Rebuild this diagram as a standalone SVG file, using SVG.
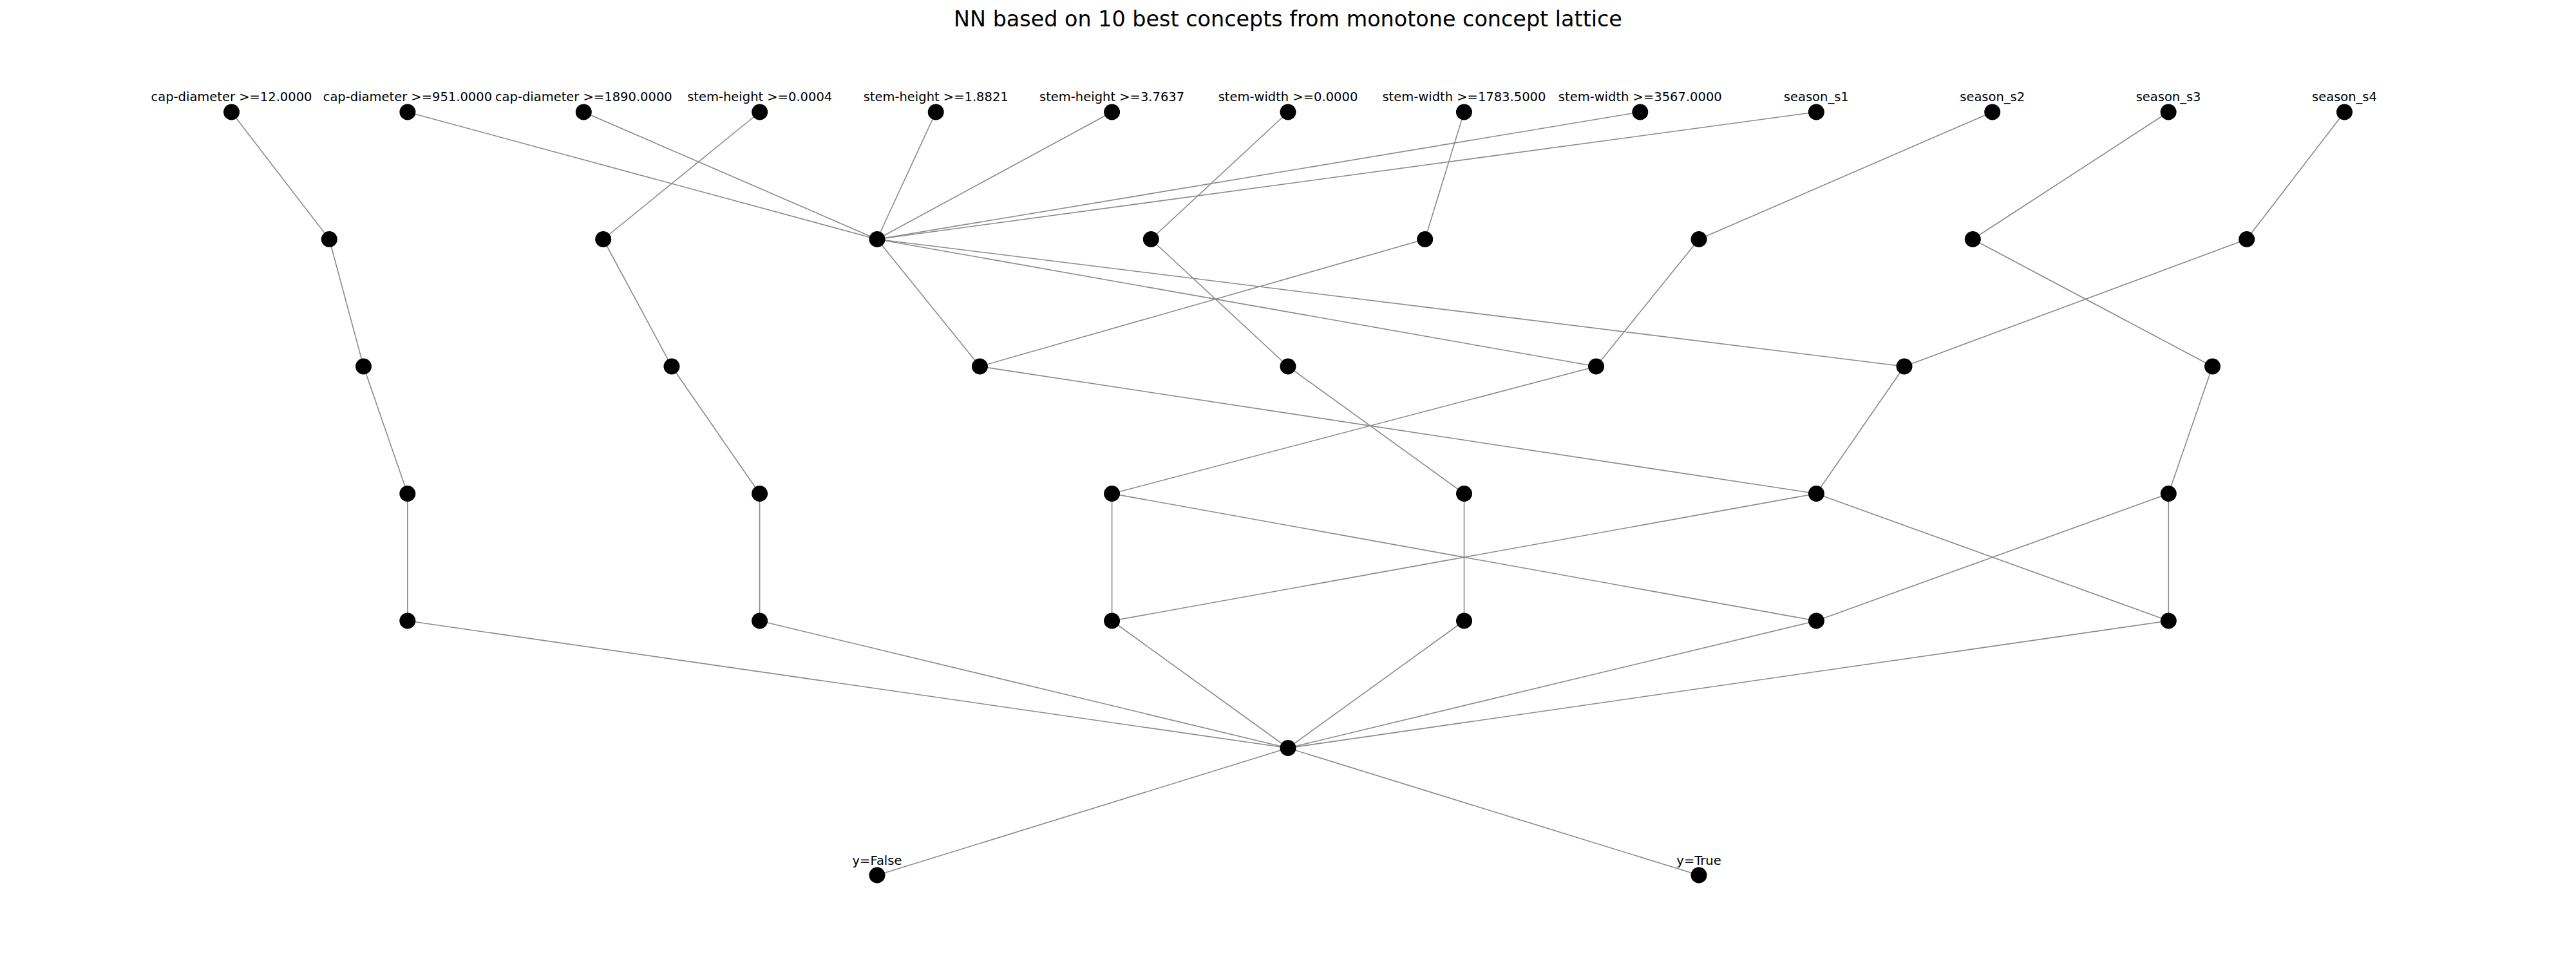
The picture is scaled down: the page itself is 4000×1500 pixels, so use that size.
<svg xmlns="http://www.w3.org/2000/svg" width="4000" height="1500" viewBox="0 0 4000 1500">
<style>
.e{stroke:#8a8a8a;stroke-width:1.6;fill:none}
.n{fill:#000}
.l{font-family:"DejaVu Sans",sans-serif;font-size:19.5px;fill:#000;text-anchor:middle}
.t{font-family:"DejaVu Sans",sans-serif;font-size:33.4px;fill:#000;text-anchor:middle}
</style>
<rect width="4000" height="1500" fill="#fff"/>
<text class="t" x="2000" y="41">NN based on 10 best concepts from monotone concept lattice</text>
<g id="edges">
<line class="e" x1="359.5" y1="174" x2="511.3" y2="371.5"/>
<line class="e" x1="632.9" y1="174" x2="1362" y2="371.5"/>
<line class="e" x1="906.3" y1="174" x2="1362" y2="371.5"/>
<line class="e" x1="1179.7" y1="174" x2="936.7" y2="371.5"/>
<line class="e" x1="1453.2" y1="174" x2="1362" y2="371.5"/>
<line class="e" x1="1726.6" y1="174" x2="1362" y2="371.5"/>
<line class="e" x1="2000" y1="174" x2="1787.3" y2="371.5"/>
<line class="e" x1="2273.4" y1="174" x2="2212.7" y2="371.5"/>
<line class="e" x1="2546.8" y1="174" x2="1362" y2="371.5"/>
<line class="e" x1="2820.3" y1="174" x2="1362" y2="371.5"/>
<line class="e" x1="3093.7" y1="174" x2="2638" y2="371.5"/>
<line class="e" x1="3367.1" y1="174" x2="3063.3" y2="371.5"/>
<line class="e" x1="3640.5" y1="174" x2="3488.7" y2="371.5"/>
<line class="e" x1="511.3" y1="371.5" x2="564.5" y2="569"/>
<line class="e" x1="936.7" y1="371.5" x2="1043" y2="569"/>
<line class="e" x1="1362" y1="371.5" x2="1521.5" y2="569"/>
<line class="e" x1="1362" y1="371.5" x2="2478.5" y2="569"/>
<line class="e" x1="1362" y1="371.5" x2="2957" y2="569"/>
<line class="e" x1="1787.3" y1="371.5" x2="2000" y2="569"/>
<line class="e" x1="2212.7" y1="371.5" x2="1521.5" y2="569"/>
<line class="e" x1="2638" y1="371.5" x2="2478.5" y2="569"/>
<line class="e" x1="3063.3" y1="371.5" x2="3435.5" y2="569"/>
<line class="e" x1="3488.7" y1="371.5" x2="2957" y2="569"/>
<line class="e" x1="564.5" y1="569" x2="632.8" y2="766.5"/>
<line class="e" x1="1043" y1="569" x2="1179.6" y2="766.5"/>
<line class="e" x1="1521.5" y1="569" x2="2820.4" y2="766.5"/>
<line class="e" x1="2000" y1="569" x2="2273.5" y2="766.5"/>
<line class="e" x1="2478.5" y1="569" x2="1726.6" y2="766.5"/>
<line class="e" x1="2957" y1="569" x2="2820.4" y2="766.5"/>
<line class="e" x1="3435.5" y1="569" x2="3367.3" y2="766.5"/>
<line class="e" x1="632.8" y1="766.5" x2="632.8" y2="964"/>
<line class="e" x1="1179.6" y1="766.5" x2="1179.6" y2="964"/>
<line class="e" x1="1726.6" y1="766.5" x2="1726.6" y2="964"/>
<line class="e" x1="1726.6" y1="766.5" x2="2820.4" y2="964"/>
<line class="e" x1="2273.5" y1="766.5" x2="2273.5" y2="964"/>
<line class="e" x1="2820.4" y1="766.5" x2="1726.6" y2="964"/>
<line class="e" x1="2820.4" y1="766.5" x2="3367.3" y2="964"/>
<line class="e" x1="3367.3" y1="766.5" x2="2820.4" y2="964"/>
<line class="e" x1="3367.3" y1="766.5" x2="3367.3" y2="964"/>
<line class="e" x1="632.8" y1="964" x2="2000" y2="1161.5"/>
<line class="e" x1="1179.6" y1="964" x2="2000" y2="1161.5"/>
<line class="e" x1="1726.6" y1="964" x2="2000" y2="1161.5"/>
<line class="e" x1="2273.5" y1="964" x2="2000" y2="1161.5"/>
<line class="e" x1="2820.4" y1="964" x2="2000" y2="1161.5"/>
<line class="e" x1="3367.3" y1="964" x2="2000" y2="1161.5"/>
<line class="e" x1="2000" y1="1161.5" x2="1362" y2="1359"/>
<line class="e" x1="2000" y1="1161.5" x2="2638" y2="1359"/>
</g>
<g id="n0_0"><circle class="n" cx="359.5" cy="174" r="12.5"/><text class="l" x="359.5" y="157">cap-diameter &gt;=12.0000</text></g>
<g id="n0_1"><circle class="n" cx="632.9" cy="174" r="12.5"/><text class="l" x="632.9" y="157">cap-diameter &gt;=951.0000</text></g>
<g id="n0_2"><circle class="n" cx="906.3" cy="174" r="12.5"/><text class="l" x="906.3" y="157">cap-diameter &gt;=1890.0000</text></g>
<g id="n0_3"><circle class="n" cx="1179.7" cy="174" r="12.5"/><text class="l" x="1179.7" y="157">stem-height &gt;=0.0004</text></g>
<g id="n0_4"><circle class="n" cx="1453.2" cy="174" r="12.5"/><text class="l" x="1453.2" y="157">stem-height &gt;=1.8821</text></g>
<g id="n0_5"><circle class="n" cx="1726.6" cy="174" r="12.5"/><text class="l" x="1726.6" y="157">stem-height &gt;=3.7637</text></g>
<g id="n0_6"><circle class="n" cx="2000" cy="174" r="12.5"/><text class="l" x="2000" y="157">stem-width &gt;=0.0000</text></g>
<g id="n0_7"><circle class="n" cx="2273.4" cy="174" r="12.5"/><text class="l" x="2273.4" y="157">stem-width &gt;=1783.5000</text></g>
<g id="n0_8"><circle class="n" cx="2546.8" cy="174" r="12.5"/><text class="l" x="2546.8" y="157">stem-width &gt;=3567.0000</text></g>
<g id="n0_9"><circle class="n" cx="2820.3" cy="174" r="12.5"/><text class="l" x="2820.3" y="157">season_s1</text></g>
<g id="n0_10"><circle class="n" cx="3093.7" cy="174" r="12.5"/><text class="l" x="3093.7" y="157">season_s2</text></g>
<g id="n0_11"><circle class="n" cx="3367.1" cy="174" r="12.5"/><text class="l" x="3367.1" y="157">season_s3</text></g>
<g id="n0_12"><circle class="n" cx="3640.5" cy="174" r="12.5"/><text class="l" x="3640.5" y="157">season_s4</text></g>
<g id="n1_0"><circle class="n" cx="511.3" cy="371.5" r="12.5"/></g>
<g id="n1_1"><circle class="n" cx="936.7" cy="371.5" r="12.5"/></g>
<g id="n1_2"><circle class="n" cx="1362" cy="371.5" r="12.5"/></g>
<g id="n1_3"><circle class="n" cx="1787.3" cy="371.5" r="12.5"/></g>
<g id="n1_4"><circle class="n" cx="2212.7" cy="371.5" r="12.5"/></g>
<g id="n1_5"><circle class="n" cx="2638" cy="371.5" r="12.5"/></g>
<g id="n1_6"><circle class="n" cx="3063.3" cy="371.5" r="12.5"/></g>
<g id="n1_7"><circle class="n" cx="3488.7" cy="371.5" r="12.5"/></g>
<g id="n2_0"><circle class="n" cx="564.5" cy="569" r="12.5"/></g>
<g id="n2_1"><circle class="n" cx="1043" cy="569" r="12.5"/></g>
<g id="n2_2"><circle class="n" cx="1521.5" cy="569" r="12.5"/></g>
<g id="n2_3"><circle class="n" cx="2000" cy="569" r="12.5"/></g>
<g id="n2_4"><circle class="n" cx="2478.5" cy="569" r="12.5"/></g>
<g id="n2_5"><circle class="n" cx="2957" cy="569" r="12.5"/></g>
<g id="n2_6"><circle class="n" cx="3435.5" cy="569" r="12.5"/></g>
<g id="n3_0"><circle class="n" cx="632.8" cy="766.5" r="12.5"/></g>
<g id="n3_1"><circle class="n" cx="1179.6" cy="766.5" r="12.5"/></g>
<g id="n3_2"><circle class="n" cx="1726.6" cy="766.5" r="12.5"/></g>
<g id="n3_3"><circle class="n" cx="2273.5" cy="766.5" r="12.5"/></g>
<g id="n3_4"><circle class="n" cx="2820.4" cy="766.5" r="12.5"/></g>
<g id="n3_5"><circle class="n" cx="3367.3" cy="766.5" r="12.5"/></g>
<g id="n4_0"><circle class="n" cx="632.8" cy="964" r="12.5"/></g>
<g id="n4_1"><circle class="n" cx="1179.6" cy="964" r="12.5"/></g>
<g id="n4_2"><circle class="n" cx="1726.6" cy="964" r="12.5"/></g>
<g id="n4_3"><circle class="n" cx="2273.5" cy="964" r="12.5"/></g>
<g id="n4_4"><circle class="n" cx="2820.4" cy="964" r="12.5"/></g>
<g id="n4_5"><circle class="n" cx="3367.3" cy="964" r="12.5"/></g>
<g id="n5_0"><circle class="n" cx="2000" cy="1161.5" r="12.5"/></g>
<g id="n6_0"><circle class="n" cx="1362" cy="1359" r="12.5"/><text class="l" x="1362" y="1342.5">y=False</text></g>
<g id="n6_1"><circle class="n" cx="2638" cy="1359" r="12.5"/><text class="l" x="2638" y="1342.5">y=True</text></g>
</svg>
